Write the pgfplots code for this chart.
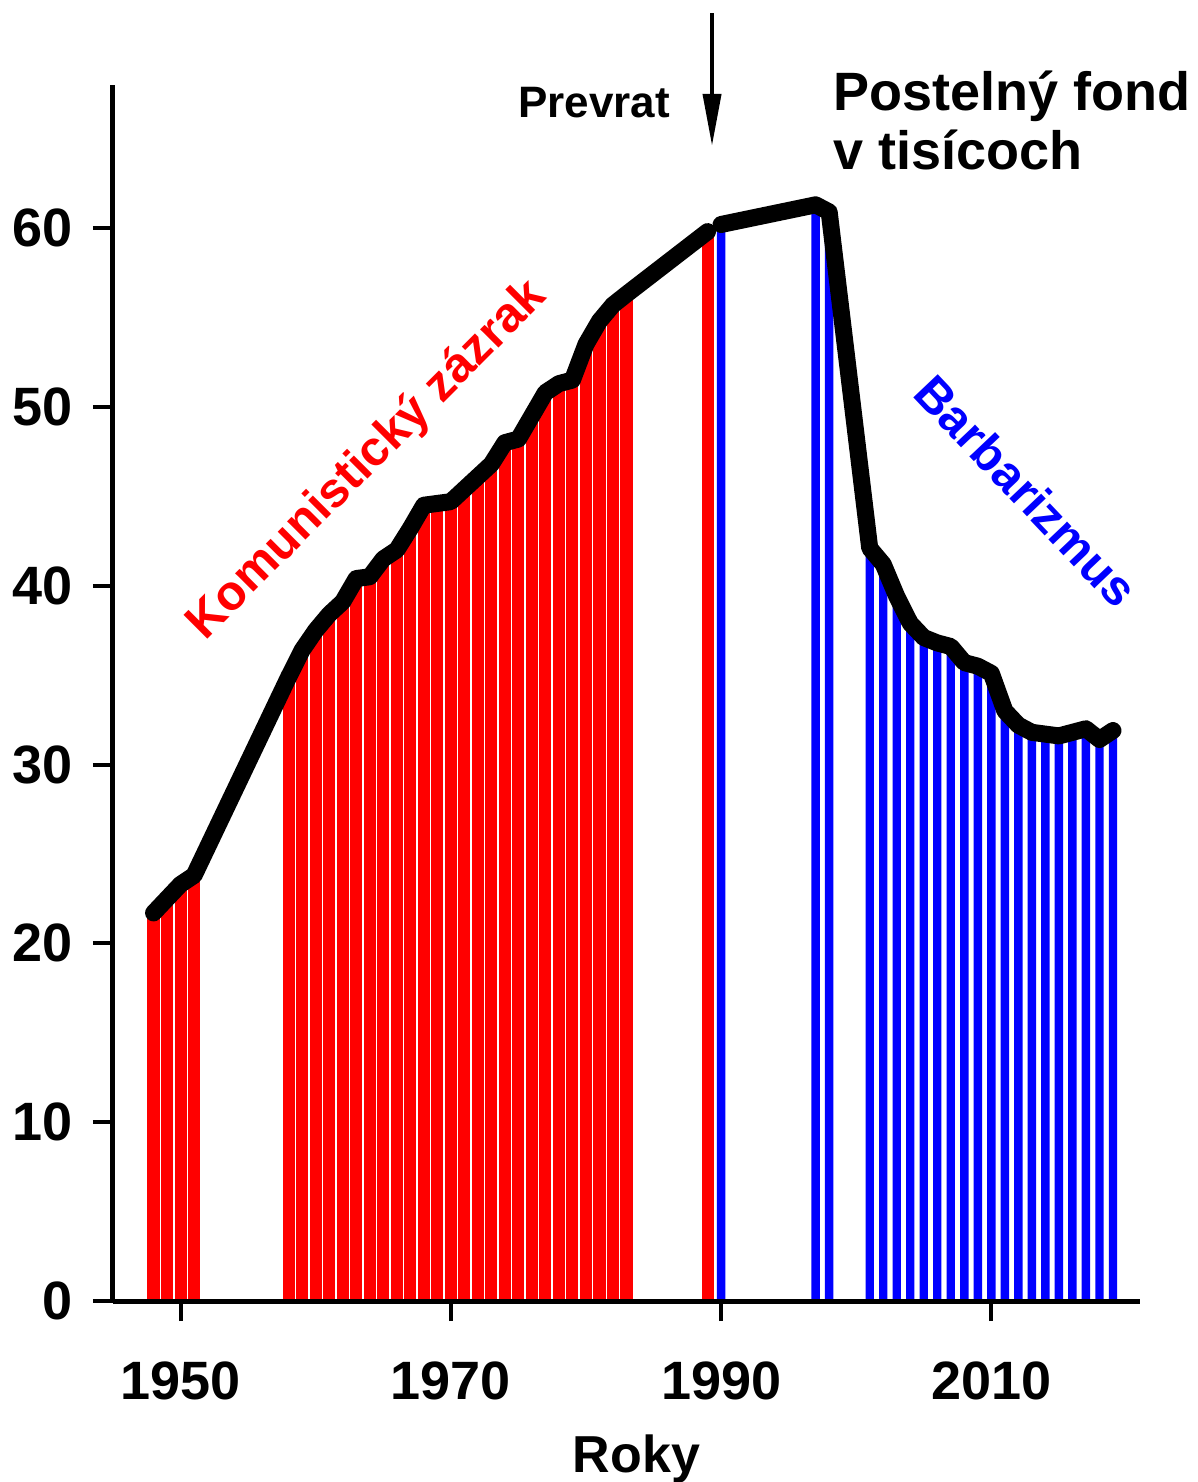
\documentclass[border=0pt]{standalone}
\usepackage{fontspec}
\setmainfont{Liberation Sans}
\usepackage{pgfplots}
\pgfplotsset{compat=1.18}
\usetikzlibrary{arrows.meta}
\definecolor{myred}{RGB}{255,0,0}
\definecolor{myblue}{RGB}{0,0,255}
\pgfplotstableread{
x y
1948 21.7
1949 22.5
1950 23.3
1951 23.8
1958 34.9
1959 36.4
1960 37.5
1961 38.4
1962 39.1
1963 40.4
1964 40.5
1965 41.5
1966 42.0
1967 43.2
1968 44.5
1969 44.6
1970 44.7
1971 45.4
1972 46.1
1973 46.8
1974 48.0
1975 48.2
1976 49.5
1977 50.8
1978 51.3
1979 51.5
1980 53.5
1981 54.8
1982 55.7
1983 56.3
1989 59.8
}\redtab
\pgfplotstableread{
x y
1990 60.2
1997 61.3
1998 60.9
2001 42.1
2002 41.2
2003 39.4
2004 37.9
2005 37.1
2006 36.8
2007 36.6
2008 35.7
2009 35.5
2010 35.1
2011 33.0
2012 32.2
2013 31.8
2014 31.7
2015 31.6
2016 31.8
2017 32.0
2018 31.4
2019 31.9
}\bluetab
\begin{document}
\begin{tikzpicture}
\path[use as bounding box] (-56.5pt,-90.5pt) rectangle (542.5pt,650.5pt);
\begin{axis}[
  at={(0pt,0pt)}, anchor=south west,
  scale only axis, width=513.5pt, height=608pt,
  xmin=1945, xmax=2021, ymin=0, ymax=68,
  axis lines=left,
  axis line style={-, line width=2.5pt},
  tick align=outside, major tick length=10pt,
  tick style={line width=2pt, black},
  xtick={1950,1970,1990,2010},
  ytick={0,10,20,30,40,50,60},
  /pgf/number format/1000 sep={},
  /pgf/number format/assume math mode=true,
  ticklabel style={font=\bfseries\fontsize{27}{30}\selectfont},
  xticklabel style={yshift=-17pt},
  yticklabel style={xshift=-6.5pt},
  xlabel={Roky},
  xlabel style={font=\bfseries\fontsize{26}{30}\selectfont, yshift=-10.5pt, xshift=5pt},
  clip=false, axis on top,
]
\addplot[ybar, bar width=1, bar shift=0pt, fill=myred, draw=white, line width=0.7pt] table[x=x,y=y] {\redtab};
\addplot[ybar, bar width=0.62, bar shift=0pt, fill=myblue, draw=none] table[x=x,y=y] {\bluetab};
\addplot[black, line width=8.5pt, line join=round, line cap=round] table[x=x,y=y] {\redtab};
\addplot[black, line width=8.5pt, line join=round, line cap=round] table[x=x,y=y] {\bluetab};
\node[rotate=45, text=myred, font=\bfseries\fontsize{24.5}{28}\selectfont] at (axis cs:1963.85,47.0) {Komunistický zázrak};
\node[rotate=-46.5, text=myblue, font=\bfseries\fontsize{24.5}{28}\selectfont] at (axis cs:2012.6,45.3) {Barbarizmus};
\node[anchor=base, font=\bfseries\fontsize{22}{26}\selectfont] at (axis cs:1980.6,66.2) {Prevrat};
\draw[line width=2pt, -{Triangle[length=26pt,width=9pt]}] (axis cs:1989.33,72.0) -- (axis cs:1989.33,64.6);
\node[anchor=base west, font=\bfseries\fontsize{27}{30}\selectfont] at (axis cs:1997.8,66.6) {Postelný fond};
\node[anchor=base west, font=\bfseries\fontsize{27}{30}\selectfont] at (axis cs:1997.8,63.25) {v tisícoch};
\end{axis}
\end{tikzpicture}
\end{document}
